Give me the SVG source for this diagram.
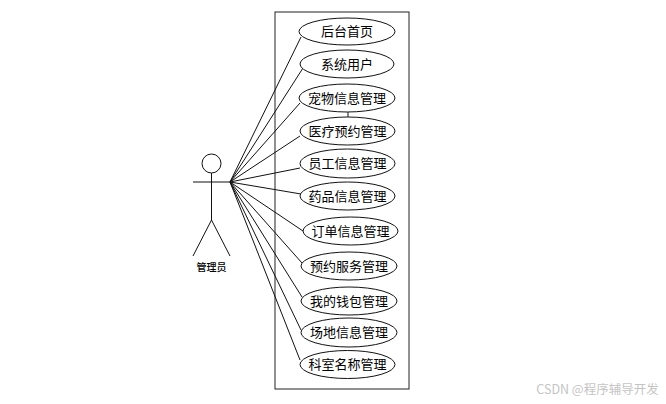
<svg xmlns="http://www.w3.org/2000/svg" width="666" height="404" viewBox="0 0 666 404">
<style>
.l{fill:none;stroke:#111;stroke-width:1}
.n ellipse{fill:#fff;stroke:#111;stroke-width:1}
text{font-family:"Noto Sans CJK SC","Liberation Sans",sans-serif;fill:#000;text-anchor:middle}
.n text{font-size:13px}
</style>
<rect width="666" height="404" fill="#fff"/>
<rect x="275" y="12" width="134" height="377" fill="#fff" stroke="#222" stroke-width="1"/>
<g id="connectors" class="l">
<path d="M230 182L301 37M230 182L303 68M230 182L300 103M230 182L300 136M230 182L300 168M230 182L301 194M230 182L303 231M230 182L302 263M230 182L302 297M230 182L301 330M230 182L300 360M348 112V117"/>
</g>
<g id="actor" class="l">
<circle cx="211.5" cy="163.5" r="9.5"/>
<path d="M193 182H230M211.5 173V220M211.5 220L193 256M211.5 220L230 256"/>
<text x="211.500" y="271" style="font-size:10px;font-weight:500;fill:#000;stroke:none">管理员</text>
</g>
<g id="n1" class="n"><ellipse cx="347" cy="31.500" rx="48" ry="13.500"/><text x="347" y="35.500">后台首页</text></g>
<g id="n2" class="n"><ellipse cx="347" cy="64" rx="47" ry="14"/><text x="347" y="68.500">系统用户</text></g>
<g id="n3" class="n"><ellipse cx="347" cy="98" rx="48" ry="14"/><text x="347" y="102.500">宠物信息管理</text></g>
<g id="n4" class="n"><ellipse cx="347.500" cy="131" rx="47.500" ry="14"/><text x="347.500" y="135.500">医疗预约管理</text></g>
<g id="n5" class="n"><ellipse cx="347.500" cy="163.500" rx="47.500" ry="14.500"/><text x="347.500" y="168">员工信息管理</text></g>
<g id="n6" class="n"><ellipse cx="347.500" cy="196" rx="47.500" ry="14"/><text x="347.500" y="200.500">药品信息管理</text></g>
<g id="n7" class="n"><ellipse cx="350.500" cy="231" rx="47.500" ry="14"/><text x="350.500" y="235.500">订单信息管理</text></g>
<g id="n8" class="n"><ellipse cx="349" cy="266" rx="48" ry="14"/><text x="349" y="270.500">预约服务管理</text></g>
<g id="n9" class="n"><ellipse cx="349" cy="301" rx="48" ry="14"/><text x="349" y="305.500">我的钱包管理</text></g>
<g id="n10" class="n"><ellipse cx="349" cy="332.500" rx="48" ry="14.500"/><text x="349" y="337">场地信息管理</text></g>
<g id="n11" class="n"><ellipse cx="347.500" cy="364.500" rx="47.500" ry="14"/><text x="347.500" y="369">科室名称管理</text></g>
<text x="597.500" y="394" style="font-size:12.500px;fill:#c4c4c4">CSDN @程序辅导开发</text>
</svg>
